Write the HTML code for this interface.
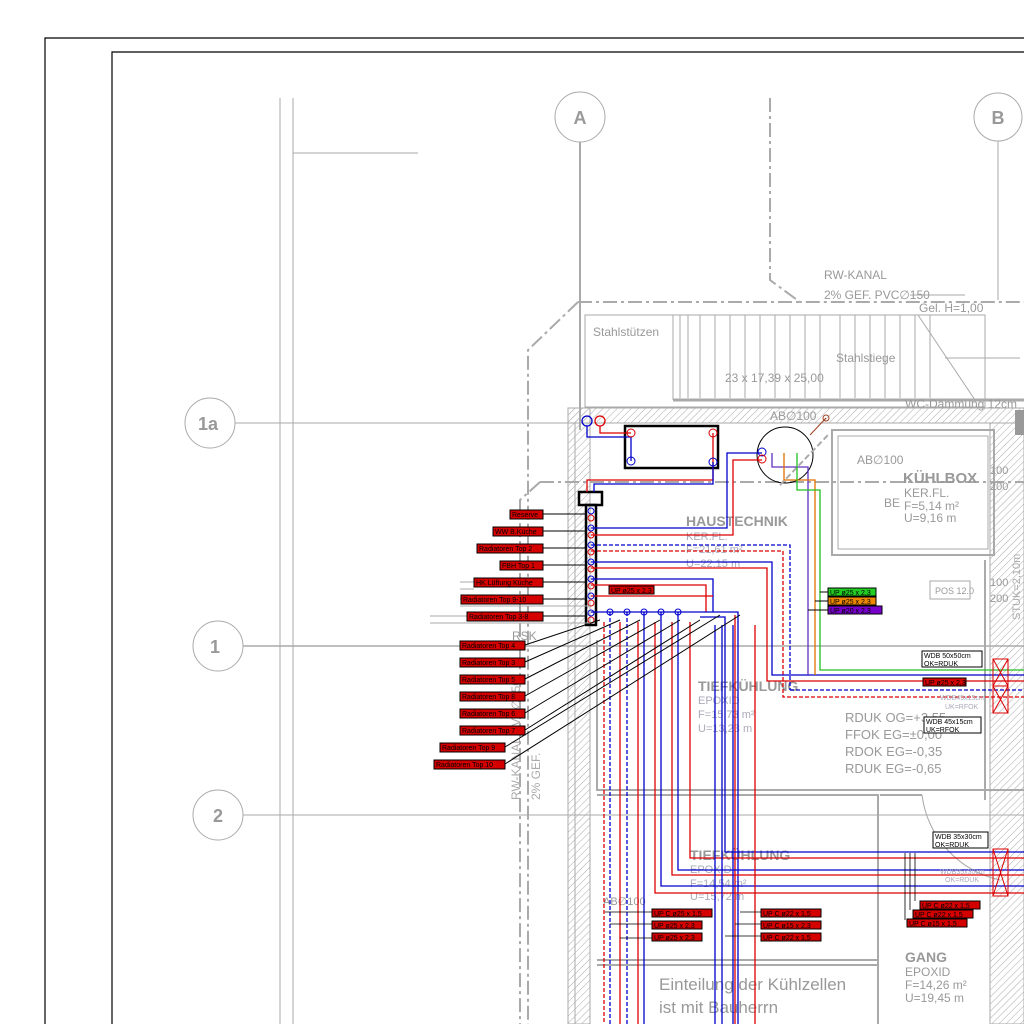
<!DOCTYPE html>
<html><head><meta charset="utf-8"><style>
html,body{margin:0;padding:0;background:#fff;width:1024px;height:1024px;overflow:hidden}
svg{display:block}
text{font-family:"Liberation Sans",sans-serif}
.g{stroke:#aaa;fill:none}
.gt{fill:#999}
.lb rect{fill:#d40000;stroke:#000;stroke-width:1}
.lb text{font-size:7px;fill:#000}
</style></head><body>
<svg width="1024" height="1024" viewBox="0 0 1024 1024" xmlns="http://www.w3.org/2000/svg">
<defs>
<pattern id="h" width="5" height="5" patternUnits="userSpaceOnUse" patternTransform="rotate(45)">
<line x1="0" y1="0" x2="0" y2="5" stroke="#aaa" stroke-width="1"/></pattern>
</defs>
<!-- frames -->
<path d="M45 1024 V38 H1024" stroke="#000" fill="none" stroke-width="1.2"/>
<path d="M112 1024 V52 H1024" stroke="#000" fill="none" stroke-width="1.2"/>
<!-- left gray lines -->
<line x1="280" y1="98" x2="280" y2="1024" class="g"/>
<line x1="293" y1="98" x2="293" y2="1024" class="g"/>
<line x1="293" y1="153" x2="418" y2="153" class="g"/>
<!-- grid bubbles -->
<g class="g" stroke-width="1">
<circle cx="580" cy="117" r="25"/><circle cx="998" cy="117" r="24"/>
<circle cx="210" cy="423" r="25"/><circle cx="218" cy="646" r="25"/><circle cx="218" cy="815" r="25"/>
<line x1="580" y1="142" x2="580" y2="430" stroke-width="2"/>
<line x1="998" y1="141" x2="998" y2="300"/>
<line x1="235" y1="423" x2="1024" y2="423"/>
<line x1="243" y1="646" x2="1024" y2="646" stroke-width="1.5"/>
<line x1="243" y1="815" x2="1024" y2="815"/>
</g>
<g font-size="18" font-weight="bold" fill="#999" text-anchor="middle">
<text x="580" y="124">A</text><text x="998" y="124">B</text>
<text x="208" y="430">1a</text><text x="215" y="653">1</text><text x="218" y="822">2</text></g>
<!-- dashed boundary -->
<g stroke="#aaa" fill="none" stroke-width="2" stroke-dasharray="14,4,3,4">
<path d="M770 98 V280 L800 302 H1024"/>
<path d="M578 302 H800"/>
<path d="M578 302 L528 350 V1024"/>
<path d="M540 482 H1024"/>
<path d="M540 482 L520 500 V1024"/>
</g>
<!-- stair -->
<g class="g">
<rect x="585" y="315" width="400" height="92"/>
<line x1="673" y1="315" x2="673" y2="400"/>
<line x1="673" y1="400" x2="1024" y2="400" stroke-width="3"/>
<path d="M680 315V398M688 315V398M700 315V398M715 315V398M730 315V398M745 315V398M760 315V398M775 315V398M790 315V398M805 315V398M820 315V398M840 315V398M855 315V398M870 315V398M885 315V398M900 315V398M915 315V398M930 315V398"/>
<line x1="918" y1="315" x2="975" y2="400"/>
<line x1="945" y1="358" x2="1020" y2="358"/>
<line x1="910" y1="295" x2="965" y2="295"/>
</g>
<g class="gt" font-size="12">
<text x="824" y="279">RW-KANAL</text><text x="824" y="299">2% GEF. PVC∅150</text>
<text x="919" y="312">Gel. H=1,00</text>
<text x="593" y="336">Stahlstützen</text><text x="836" y="362">Stahlstiege</text>
<text x="725" y="382">23 x 17,39 x 25,00</text>
<text x="905" y="408">WC-Dämmung 12cm</text>
<text x="770" y="420">AB∅100</text>
</g>
<!-- walls -->
<rect x="568" y="408" width="456" height="15" fill="url(#h)" stroke="#aaa"/>
<rect x="568" y="408" width="22" height="616" fill="url(#h)" stroke="#aaa"/>
<line x1="575" y1="423" x2="575" y2="1024" stroke="#aaa"/>
<rect x="832" y="430" width="162" height="125" fill="none" stroke="#aaa" stroke-width="2"/>
<rect x="838" y="436" width="150" height="113" fill="none" stroke="#aaa"/>
<rect x="990" y="423" width="34" height="601" fill="url(#h)" stroke="#aaa"/>
<rect x="1015" y="410" width="9" height="25" fill="#999"/>
<!-- rooms -->
<g class="g" stroke-width="2">
<path d="M597 640 V790 H1024"/>
<path d="M597 795 H878 V960 H597"/>
<path d="M597 965 H878 V1024"/>
<path d="M880 795 H922"/>
<path d="M878 912 V1024"/>
<line x1="985" y1="560" x2="985" y2="800"/>
</g>
<path d="M922 795 A100 100 0 0 0 1000 880" class="g"/>
<rect x="930" y="581" width="40" height="18" class="g"/>
<g class="gt">
<text x="935" y="594" font-size="9">POS 12.0</text>
<text x="857" y="464" font-size="12">AB∅100</text>
<text x="903" y="483" font-size="15" font-weight="bold">KÜHLBOX</text>
<text x="884" y="507" font-size="12">BE</text>
<text x="904" y="497" font-size="12">KER.FL.</text>
<text x="904" y="510" font-size="12">F=5,14 m²</text>
<text x="904" y="522" font-size="12">U=9,16 m</text>
<text x="990" y="474" font-size="11">100</text><text x="990" y="490" font-size="11">200</text>
<text x="990" y="586" font-size="11">100</text><text x="990" y="602" font-size="11">200</text>
<text x="686" y="526" font-size="14" font-weight="bold">HAUSTECHNIK</text>
<text x="698" y="691" font-size="14" font-weight="bold">TIEFKÜHLUNG</text>
<text x="690" y="860" font-size="14" font-weight="bold">TIEFKÜHLUNG</text>
<text x="905" y="962" font-size="14" font-weight="bold">GANG</text>
<text x="905" y="976" font-size="12">EPOXID</text><text x="905" y="989" font-size="12">F=14,26 m²</text><text x="905" y="1002" font-size="12">U=19,45 m</text>
<text x="845" y="722" font-size="13">RDUK OG=+3,55</text>
<text x="845" y="739" font-size="13">FFOK EG=±0,00</text>
<text x="845" y="756" font-size="13">RDOK EG=-0,35</text>
<text x="845" y="773" font-size="13">RDUK EG=-0,65</text>
<text x="659" y="990" font-size="17">Einteilung der Kühlzellen</text>
<text x="659" y="1013" font-size="17">ist mit Bauherrn</text>
<text x="603" y="905" font-size="11">AB∅100</text>
<text x="512" y="640" font-size="12">RSK</text>
</g>
<g fill="#aab" font-size="11">
<text x="686" y="540">KER.FL.</text><text x="686" y="553">F=21,61 m²</text><text x="686" y="567">U=22,15 m</text>
<text x="698" y="704">EPOXID</text><text x="698" y="718">F=15,73 m²</text><text x="698" y="732">U=13,23 m</text>
<text x="690" y="873">EPOXID</text><text x="690" y="887">F=14,54 m²</text><text x="690" y="900">U=15,72 m</text>
</g>
<text transform="translate(520,800) rotate(-90)" fill="#aaa" font-size="12">RW-KANAL PVC∅150</text>
<text transform="translate(540,800) rotate(-90)" fill="#aaa" font-size="12">2% GEF.</text>
<text transform="translate(1020,620) rotate(-90)" fill="#aaa" font-size="11">STUK=2,10m</text>
<!-- equipment -->
<rect x="625" y="426" width="93" height="42" fill="none" stroke="#000" stroke-width="2.5"/>
<circle cx="785" cy="455" r="28" fill="none" stroke="#000"/>
<line x1="780" y1="485" x2="828" y2="435" stroke="#aaa" stroke-width="2" stroke-dasharray="6,3"/>
<line x1="810" y1="435" x2="826" y2="418" stroke="#a04020"/>
<circle cx="826" cy="418" r="3" fill="none" stroke="#a04020"/>
<rect x="579" y="492" width="23" height="13" fill="none" stroke="#000" stroke-width="2.5"/>
<rect x="586" y="505" width="10" height="120" fill="none" stroke="#000" stroke-width="2.5"/>
<!-- pipes -->
<g fill="none" stroke-width="1.3">
<circle cx="587" cy="421" r="5" stroke="#00c"/><circle cx="600" cy="421" r="5" stroke="#d00"/>
<path d="M587 426V437H631V461" stroke="#00c"/><path d="M600 426V433H631" stroke="#d00"/>
<path d="M713 433V480H587V492" stroke="#d00"/><path d="M713 462V484H594V492" stroke="#00c"/>
<path d="M591 528H727V453H762" stroke="#00c"/><path d="M591 535H733V460H762" stroke="#d00"/>
<path d="M591 545H790V690" stroke="#00c" stroke-dasharray="4,2"/>
<path d="M591 551H783V697H1024" stroke="#d00" stroke-dasharray="4,2"/>
<path d="M790 690H1024" stroke="#00c" stroke-dasharray="4,2"/>
<path d="M591 562H772V675H1024" stroke="#00c"/><path d="M591 568H767V681H1024" stroke="#d00"/>
<path d="M591 579H713V612" stroke="#00c"/><path d="M591 585H706V612" stroke="#d00"/>
<path d="M591 596H713" stroke="#d00"/>
<path d="M772 453V467H808V675" stroke="#6030c0"/>
<path d="M784 453V480H815V675" stroke="#e07000"/>
<path d="M797 453V490H820V670H1024" stroke="#20c020"/>
<path d="M591 612H738V1024" stroke="#00c"/>
<path d="M735 615V1024" stroke="#d00"/>
<path d="M604 622V1024" stroke="#d00" stroke-dasharray="4,2"/>
<path d="M610 612V1024" stroke="#00c" stroke-dasharray="4,2"/>
<path d="M620 622V1024" stroke="#d00"/>
<path d="M627 612V1024" stroke="#00c" stroke-dasharray="4,2"/>
<path d="M638 622V1024" stroke="#d00"/>
<path d="M644 612V1024" stroke="#00c"/>
<path d="M655 622V893H1024" stroke="#d00"/>
<path d="M661 612V886H1024" stroke="#00c"/>
<path d="M672 622V875H1024" stroke="#d00"/>
<path d="M678 612V870H1024" stroke="#00c"/>
<path d="M690 622V858H1024" stroke="#d00"/>
<path d="M700 617H725V852H1024" stroke="#00c"/>
<path d="M715 625V1024M722 625V1024" stroke="#00c"/>
<path d="M733 625V1024" stroke="#00c"/><path d="M755 625V1024" stroke="#d00"/>
</g>
<g fill="none" stroke-width="1">
<circle cx="631" cy="433" r="4" stroke="#d00"/><circle cx="631" cy="461" r="4" stroke="#00c"/>
<circle cx="713" cy="433" r="4" stroke="#d00"/><circle cx="713" cy="462" r="4" stroke="#00c"/>
<circle cx="762" cy="452" r="4" stroke="#00c"/><circle cx="762" cy="459" r="4" stroke="#d00"/>
<g stroke="#00c"><circle cx="591" cy="511" r="3"/><circle cx="591" cy="528" r="3"/><circle cx="591" cy="545" r="3"/><circle cx="591" cy="562" r="3"/><circle cx="591" cy="579" r="3"/><circle cx="591" cy="596" r="3"/><circle cx="591" cy="613" r="3"/>
<circle cx="610" cy="612" r="3"/><circle cx="627" cy="612" r="3"/><circle cx="644" cy="612" r="3"/><circle cx="661" cy="612" r="3"/><circle cx="678" cy="612" r="3"/></g>
<g stroke="#d00"><circle cx="591" cy="518" r="3"/><circle cx="591" cy="535" r="3"/><circle cx="591" cy="552" r="3"/><circle cx="591" cy="569" r="3"/><circle cx="591" cy="586" r="3"/><circle cx="591" cy="603" r="3"/><circle cx="591" cy="620" r="3"/></g>
</g>
<!-- leader lines -->
<g stroke="#000" stroke-width="1">
<path d="M543 514H586M543 531H586M543 548H586M543 565H586M543 582H586M543 599H586M543 616H586"/>
<path d="M525 645L600 620M525 662L620 620M525 679L640 620M525 696L660 620M525 713L680 620M525 730L700 620M505 747L720 615M505 764L740 615"/>
<path d="M460 582H474M460 589H474M460 599H461M460 606H590M430 616H467M430 623H590" stroke="#aaa"/>
</g>
<!-- left labels -->
<g class="lb">
<rect x="510" y="510" width="33" height="9"/><text x="512" y="517">Reserve</text>
<rect x="493" y="527" width="50" height="9"/><text x="495" y="534">WW B.Küche</text>
<rect x="477" y="544" width="66" height="9"/><text x="479" y="551">Radiatoren Top 2</text>
<rect x="500" y="561" width="43" height="9"/><text x="502" y="568">FBH Top 1</text>
<rect x="474" y="578" width="69" height="9"/><text x="476" y="585">HK Lüftung Küche</text>
<rect x="461" y="595" width="82" height="9"/><text x="463" y="602">Radiatoren Top 9-10</text>
<rect x="467" y="612" width="76" height="9"/><text x="469" y="619">Radiatoren Top 3-8</text>
<rect x="460" y="641" width="65" height="9"/><text x="462" y="648">Radiatoren Top 4</text>
<rect x="460" y="658" width="65" height="9"/><text x="462" y="665">Radiatoren Top 3</text>
<rect x="460" y="675" width="65" height="9"/><text x="462" y="682">Radiatoren Top 5</text>
<rect x="460" y="692" width="65" height="9"/><text x="462" y="699">Radiatoren Top 8</text>
<rect x="460" y="709" width="65" height="9"/><text x="462" y="716">Radiatoren Top 6</text>
<rect x="460" y="726" width="65" height="9"/><text x="462" y="733">Radiatoren Top 7</text>
<rect x="440" y="743" width="65" height="9"/><text x="442" y="750">Radiatoren Top 9</text>
<rect x="434" y="760" width="71" height="9"/><text x="436" y="767">Radiatoren Top 10</text>
<rect x="609" y="586" width="45" height="8"/><text x="611" y="593">UP ø25 x 2,3</text>
<rect x="652" y="909" width="60" height="8"/><text x="654" y="916">UP C ø25 x 1,5</text>
<rect x="652" y="921" width="50" height="8"/><text x="654" y="928">UP ø25 x 2,3</text>
<rect x="652" y="933" width="50" height="8"/><text x="654" y="940">UP ø25 x 2,3</text>
<rect x="761" y="909" width="60" height="8"/><text x="763" y="916">UP C ø22 x 1,5</text>
<rect x="761" y="921" width="60" height="8"/><text x="763" y="928">UP C ø15 x 2,3</text>
<rect x="761" y="933" width="60" height="8"/><text x="763" y="940">UP C ø22 x 1,5</text>
<rect x="920" y="901" width="60" height="8"/><text x="922" y="908">UP C ø22 x 1,5</text>
<rect x="913" y="910" width="60" height="8"/><text x="915" y="917">UP C ø22 x 1,5</text>
<rect x="907" y="919" width="60" height="8"/><text x="909" y="926">UP C ø15 x 1,5</text>
<rect x="923" y="678" width="43" height="8"/><text x="925" y="685">UP ø25 x 2,3</text>
</g>
<g stroke="#000" stroke-width="0.8" fill="none">
<path d="M605 912H652M610 924H652M620 938H652M740 912H761M735 924H761M725 936H761M905 853V920M910 853V910M915 853V901"/>
</g>
<!-- UP boxes coloured -->
<g font-size="7">
<rect x="828" y="588" width="48" height="8" fill="#2c2" stroke="#000"/><text x="830" y="595">UP ø25 x 2,3</text>
<rect x="828" y="597" width="48" height="8" fill="#e80" stroke="#000"/><text x="830" y="604">UP ø25 x 2,3</text>
<rect x="828" y="606" width="54" height="8" fill="#70c" stroke="#000"/><text x="830" y="613">UP ø20 x 2,3</text>
<path d="M820 592H828M815 601H828M808 610H828" stroke="#000"/>
</g>
<!-- wall openings -->
<g>
<rect x="922" y="651" width="60" height="16" fill="#fff" stroke="#000"/><text x="924" y="658" font-size="7">WDB 50x50cm</text><text x="924" y="666" font-size="7">OK=RDUK</text>
<rect x="924" y="717" width="57" height="16" fill="#fff" stroke="#000"/><text x="926" y="724" font-size="7">WDB 45x15cm</text><text x="926" y="732" font-size="7">UK=RFOK</text>
<rect x="933" y="832" width="55" height="16" fill="#fff" stroke="#000"/><text x="935" y="839" font-size="7">WDB 35x30cm</text><text x="935" y="847" font-size="7">OK=RDUK</text>
<g fill="#e88" stroke="#d00" stroke-width="1">
<rect x="993" y="659" width="15" height="27" fill="none"/><rect x="993" y="686" width="15" height="27" fill="none"/>
<rect x="993" y="849" width="15" height="47" fill="none"/>
<path d="M993 659L1008 686M1008 659L993 686M993 686L1008 713M1008 686L993 713M993 849L1008 896M1008 849L993 896"/></g>
<g fill="#aab" font-size="7"><text x="940" y="700">WDB45x15cm</text><text x="945" y="709">UK=RFOK</text><text x="940" y="874">WDB35x30cm</text><text x="945" y="882">OK=RDUK</text></g>
</g>
</svg>
</body></html>
